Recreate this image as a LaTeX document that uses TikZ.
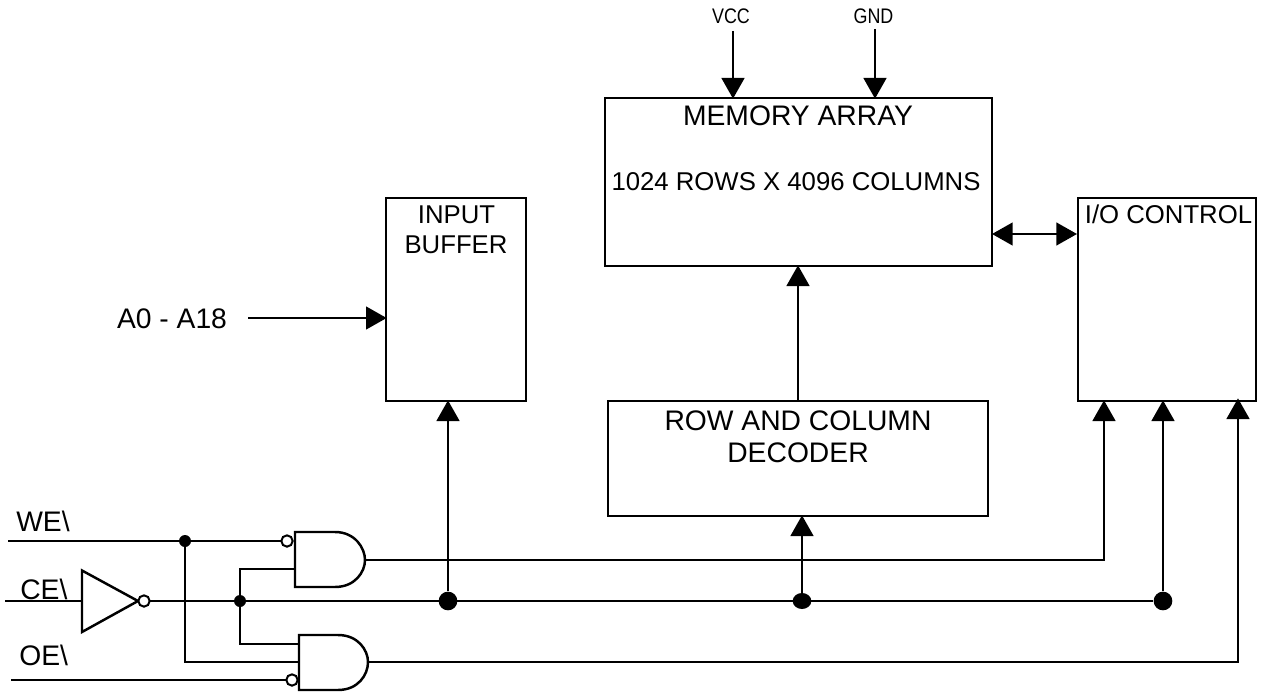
\documentclass[tikz,border=0pt]{standalone}
\usepackage{fontspec}
\setmainfont{Liberation Sans}
\newfontfamily\narrowfont[FakeStretch=0.85]{Liberation Sans}
\usetikzlibrary{arrows.meta,shapes.geometric}
\tikzset{
  x=0.75pt,y=-0.75pt,
  wire/.style={line width=1.85pt,line join=miter},
  arr/.style={wire,-{Triangle[length=15.5pt,width=17pt]},shorten >=-0.5pt},
  darr/.style={wire,{Triangle[length=15.5pt,width=17pt]}-{Triangle[length=15.5pt,width=17pt]}},
  blockbox/.style={draw,line width=1.85pt,inner sep=0pt,outer sep=0pt,anchor=north west},
  big/.style={font=\fontsize{21.2pt}{25pt}\selectfont,inner sep=0pt},
  mid/.style={font=\fontsize{19.3pt}{23pt}\selectfont,inner sep=0pt},
  tiny/.style={font=\narrowfont\fontsize{15.8pt}{18pt}\selectfont,inner sep=0pt},
  dot/.style={circle,fill=black,inner sep=0pt,minimum size=#1},
  blob/.style={ellipse,fill=black,inner sep=0pt,minimum width=14pt,minimum height=12pt},
  bubble/.style={circle,draw,fill=white,line width=1.5pt,inner sep=0pt,minimum size=8.5pt},
  gate/.style={wire,fill=white},
}
\begin{document}
\begin{tikzpicture}
\useasboundingbox (0,0) rectangle (1261,692);
% blocks
\node[blockbox,minimum width=290.25pt,minimum height=126pt] (mem) at (605,98) {};
\node[blockbox,minimum width=105pt,minimum height=152.25pt] (inbuf) at (386,198) {};
\node[blockbox,minimum width=133.5pt,minimum height=152.25pt] (io) at (1078,198) {};
\node[blockbox,minimum width=285pt,minimum height=86.25pt] (dec) at (608,401) {};
% block labels
\node[big] (t1) at (798,115.5) {MEMORY ARRAY};
\node[mid] (t2) at (796,182) {1024 ROWS X 4096 COLUMNS};
\node[mid] (t3) at (1168.5,214.5) {I/O CONTROL};
\node[mid] (t4) at (456.5,215) {INPUT};
\node[mid] (t5) at (456,245) {BUFFER};
\node[big] (t6) at (798,420.5) {ROW AND COLUMN};
\node[big] (t7) at (798,453) {DECODER};
\node[tiny] (vcc) at (731,16) {VCC};
\node[tiny] (gnd) at (873.5,16) {GND};
\node[big] (addr) at (172,318.5) {A0 - A18};
\node[big,anchor=west] (we) at (16,521) {WE\textbackslash};
\node[big,anchor=west] (ce) at (20,589) {CE\textbackslash};
\node[big,anchor=west] (oe) at (19,655) {OE\textbackslash};
% free ends
\coordinate (vcct) at (733,31);
\coordinate (vccb) at (733,98);
\coordinate (gndt) at (875,29);
\coordinate (gndb) at (875,98);
\coordinate (addrs) at (248,318);
\coordinate (addre) at (386,318);
\coordinate (wes) at (8,541);
\coordinate (ces) at (5,601);
\coordinate (oes) at (11,680);
% power and data arrows
\draw[arr] (vcct) -- (vccb);
\draw[arr] (gndt) -- (gndb);
\draw[arr] (addrs) -- (addre);
\draw[darr] (992,234) -- (1077,234);
\draw[arr] (dec.north -| 798,0) -- (mem.south -| 798,0);
% junctions
\node[dot=9pt] (jwe) at (185,541) {};
\node[dot=9pt] (jce) at (240,601) {};
\node[dot=14pt] (j1) at (448,601) {};
\node[blob] (j2) at (802,601) {};
\node[dot=14pt] (j3) at (1163,601) {};
% inputs
\draw[wire] (wes) -- (jwe) -- (281,541);
\draw[wire] (jwe) |- (299,662);
\draw[wire] (oes) -- (286,680);
\draw[wire] (ces) -- (82,601);
\draw[wire] (150,601) -- (j3);
\draw[wire] (295,569) -| (jce) |- (299,644);
% gates
\draw[gate] (82,570.5) -- (138,601) -- (82,632) -- cycle;
\node[bubble] (b0) at (144,601) {};
\draw[gate] (295,532) -- (335,532) .. controls (355,532) and (365,548) .. (365,560)
  .. controls (365,572) and (355,587) .. (335,587) -- (295,587) -- cycle;
\node[bubble] (b1) at (287,541) {};
\draw[gate] (299,635) -- (338,635) .. controls (358,635) and (368,650) .. (368,662)
  .. controls (368,675) and (358,690) .. (338,690) -- (299,690) -- cycle;
\node[bubble] (b2) at (292,680) {};
% outputs
\draw[arr] (365,560) -| (io.south -| 1104,0);
\draw[arr] (368,662) -| (1238,399);
\draw[arr] (j1) -- (inbuf.south -| j1);
\draw[arr] (j2) -- (dec.south -| j2);
\draw[arr] (j3) -- (io.south -| j3);
\end{tikzpicture}
\end{document}
